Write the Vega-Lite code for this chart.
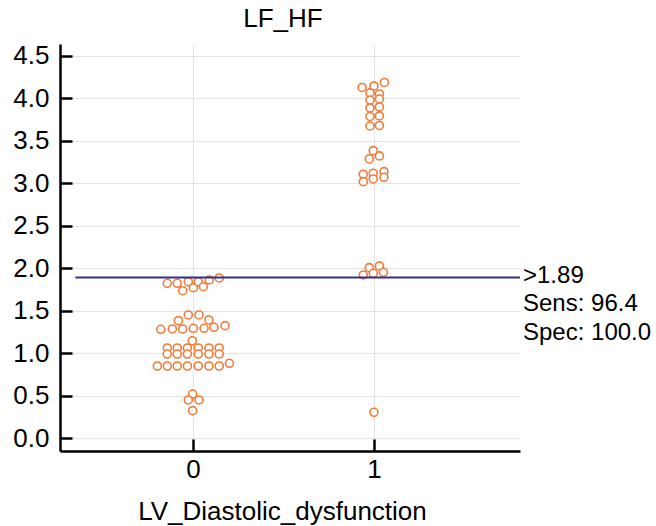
{
  "$schema": "https://vega.github.io/schema/vega-lite/v6.json",
  "width": 460,
  "height": 407,
  "autosize": {"type": "none"},
  "padding": {"left": 60, "top": 44, "right": 136, "bottom": 75},
  "background": "white",
  "title": {"text": "LF_HF", "font": "Liberation Sans", "fontSize": 26, "fontWeight": "normal", "color": "#000000", "offset": 11, "anchor": "middle", "dx": -7},
  "config": {
    "view": {"stroke": null},
    "axis": {
      "domainColor": "#000000", "domainWidth": 2.5, "tickColor": "#000000", "tickWidth": 2.5,
      "tickSize": -12, "labelFont": "Liberation Sans", "labelFontSize": 26, "labelColor": "#000000",
      "titleFont": "Liberation Sans", "titleFontSize": 26, "titleFontWeight": "normal", "titleColor": "#000000",
      "gridColor": "#e3e3e3", "gridWidth": 1
    }
  },
  "datasets": {
    "points": [
      {"x": -0.142, "y": 1.822}, {"x": -0.087, "y": 1.822}, {"x": -0.057, "y": 1.735}, {"x": -0.026, "y": 1.841},
      {"x": 0.002, "y": 1.770}, {"x": 0.029, "y": 1.841}, {"x": 0.057, "y": 1.782}, {"x": 0.090, "y": 1.861},
      {"x": 0.145, "y": 1.885},
      {"x": -0.026, "y": 1.449}, {"x": 0.033, "y": 1.449}, {"x": -0.081, "y": 1.382}, {"x": 0.088, "y": 1.390},
      {"x": -0.178, "y": 1.280}, {"x": -0.114, "y": 1.284}, {"x": -0.057, "y": 1.284}, {"x": 0.002, "y": 1.292},
      {"x": 0.061, "y": 1.292}, {"x": 0.116, "y": 1.304}, {"x": 0.177, "y": 1.323},
      {"x": -0.004, "y": 1.146},
      {"x": -0.142, "y": 1.060}, {"x": -0.087, "y": 1.060}, {"x": -0.031, "y": 1.060}, {"x": 0.029, "y": 1.060},
      {"x": 0.088, "y": 1.060}, {"x": 0.145, "y": 1.060},
      {"x": -0.142, "y": 0.989}, {"x": -0.087, "y": 0.989}, {"x": -0.031, "y": 0.989}, {"x": 0.029, "y": 0.989},
      {"x": 0.088, "y": 0.989}, {"x": 0.145, "y": 0.989},
      {"x": -0.197, "y": 0.848}, {"x": -0.142, "y": 0.848}, {"x": -0.087, "y": 0.848}, {"x": -0.031, "y": 0.848},
      {"x": 0.029, "y": 0.848}, {"x": 0.088, "y": 0.848}, {"x": 0.145, "y": 0.848}, {"x": 0.201, "y": 0.880},
      {"x": -0.002, "y": 0.518}, {"x": -0.026, "y": 0.448}, {"x": 0.033, "y": 0.448}, {"x": -0.002, "y": 0.322},
      {"x": 0.934, "y": 4.128}, {"x": 1.000, "y": 4.146}, {"x": 1.058, "y": 4.187},
      {"x": 0.978, "y": 4.064}, {"x": 0.978, "y": 3.981}, {"x": 0.978, "y": 3.887}, {"x": 0.978, "y": 3.787}, {"x": 0.978, "y": 3.675},
      {"x": 1.030, "y": 4.052}, {"x": 1.030, "y": 3.993}, {"x": 1.030, "y": 3.899}, {"x": 1.030, "y": 3.793}, {"x": 1.030, "y": 3.681},
      {"x": 0.996, "y": 3.384}, {"x": 1.030, "y": 3.322}, {"x": 0.974, "y": 3.286},
      {"x": 0.941, "y": 3.106}, {"x": 0.996, "y": 3.118}, {"x": 1.055, "y": 3.137},
      {"x": 0.941, "y": 3.019}, {"x": 0.996, "y": 3.051}, {"x": 1.055, "y": 3.071},
      {"x": 0.974, "y": 2.006}, {"x": 1.030, "y": 2.026}, {"x": 0.941, "y": 1.920}, {"x": 0.996, "y": 1.940}, {"x": 1.052, "y": 1.952},
      {"x": 1.000, "y": 0.303}
    ],
    "cut": [{"cutoff": 1.89, "from": -0.65, "to": 1.807}]
  },
  "layer": [
    {
      "data": {"name": "points"},
      "mark": {"type": "point", "shape": "circle", "filled": false, "fill": "white", "fillOpacity": 1, "stroke": "#f27a35", "strokeWidth": 1.6, "opacity": 1, "size": 64},
      "encoding": {
        "x": {"field": "x", "type": "quantitative", "scale": {"domain": [-0.735, 1.807], "nice": false, "zero": false},
              "axis": {"values": [0, 1], "title": "LV_Diastolic_dysfunction", "labelPadding": 17, "titlePadding": 16, "grid": true, "format": "d", "titleX": 222, "titleAlign": "center"}},
        "y": {"field": "y", "type": "quantitative", "scale": {"domain": [-0.153, 4.64], "nice": false, "zero": false},
              "axis": {"values": [0, 0.5, 1, 1.5, 2, 2.5, 3, 3.5, 4, 4.5], "format": ".1f", "title": null, "labelPadding": 23, "grid": true}}
      }
    },
    {
      "data": {"name": "cut"},
      "mark": {"type": "rule", "color": "#2e3192", "strokeWidth": 2},
      "encoding": {
        "x": {"field": "from", "type": "quantitative"},
        "x2": {"field": "to"},
        "y": {"field": "cutoff", "type": "quantitative"}
      }
    },
    {
      "data": {"name": "cut"},
      "mark": {"type": "text", "text": [">1.89", "Sens: 96.4", "Spec: 100.0"], "font": "Liberation Sans", "fontSize": 24, "lineHeight": 28.5, "align": "left", "baseline": "top", "dx": 3, "dy": -14, "color": "#000000"},
      "encoding": {
        "x": {"field": "to", "type": "quantitative"},
        "y": {"field": "cutoff", "type": "quantitative"}
      }
    }
  ]
}
